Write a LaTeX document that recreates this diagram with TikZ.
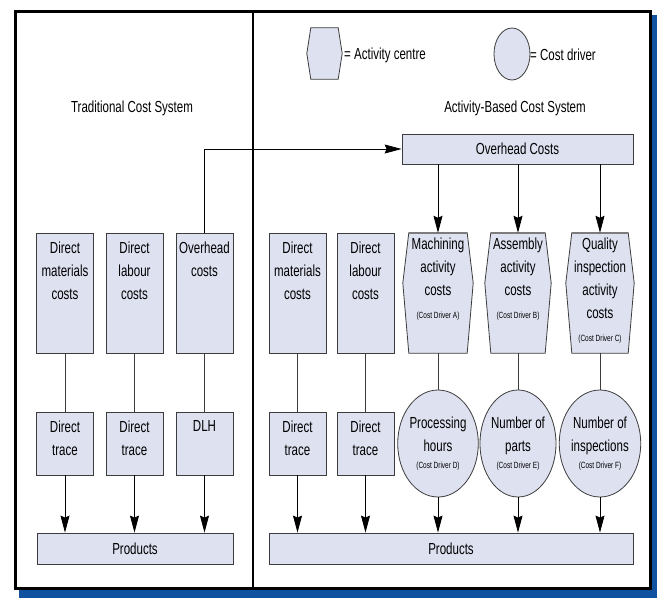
\documentclass[tikz,border=0pt]{standalone}
\usepackage{fontspec}
\setmainfont{Liberation Sans}[FakeStretch=0.72]
\usetikzlibrary{positioning,calc,arrows.meta,shapes.geometric}
\definecolor{boxfill}{RGB}{222,225,240}
\definecolor{boxline}{RGB}{60,60,60}
\definecolor{shadowblue}{RGB}{16,82,160}
\definecolor{hextop}{RGB}{125,125,125}
\newcommand{\drvnote}{\fontsize{9}{10}\selectfont}

\begin{document}
\begin{tikzpicture}[
        x=1pt, y=-1pt,
        costbox/.style={rectangle, draw=boxline, fill=boxfill, line width=0.8pt, minimum width=57pt, minimum height=120pt, inner sep=0pt},
        tracebox/.style={costbox, minimum height=63pt},
        prodbox/.style={costbox, minimum height=31pt, font=\fontsize{16}{18}\selectfont},
        driver/.style={ellipse, draw=boxline, fill=boxfill, line width=0.8pt, minimum height=107pt, inner sep=0pt, align=center, font=\fontsize{16}{23}\selectfont},
        centre/.style={rectangle, minimum height=120pt, inner sep=0pt},
        hexpath/.style={draw=boxline, fill=boxfill, line width=0.8pt},
        lbl/.style={align=center, inner sep=0pt, font=\fontsize{16}{23}\selectfont},
        flow/.style={-{Stealth[length=17pt, width=9pt, inset=2pt]}, line width=0.8pt},
        link/.style={line width=0.8pt, draw=boxline}
    ]
    \useasboundingbox (0,0) rectangle (657,598);

    % Frame with shadow
    \fill[shadowblue] (19,15) rectangle (657,598);
    \draw[line width=3pt, fill=white] (15,11) rectangle (650,588);
    \draw[line width=2.5pt] (253,11) -- (253,588);

    % Titles
    \node[lbl] (tradtitle) at (132,108) {Traditional Cost System};
    \node[lbl] (abctitle) at (515,108) {Activity-Based Cost System};

    % Key
    \node[centre, minimum width=35pt, minimum height=51pt] (keyhex) at (324.5,53.5) {};
    \node[ellipse, draw=boxline, fill=boxfill, line width=0.8pt, minimum width=36pt, minimum height=52pt] (keydrv) at (512,54) {};

    % Traditional system
    \node[costbox] (dm1) at (65,293) {};
    \node[costbox] (dl1) at (134.5,293) {};
    \node[costbox] (oh1) at (204.5,293) {};
    \node[tracebox] (dt1) at (65,443.5) {};
    \node[tracebox] (dt2) at (134.5,443.5) {};
    \node[tracebox] (dlh) at (204.5,443.5) {};
    \node[prodbox, minimum width=196pt] (prod1) at (135,548.5) {Products};

    % Activity-based system
    \node[prodbox, minimum width=231pt, minimum height=30pt] (ohc) at (517.5,149) {Overhead Costs};
    \node[costbox] (dm2) at (297.5,293) {};
    \node[costbox] (dl2) at (365.5,293) {};
    \node[centre, minimum width=70pt] (mach) at (438,293) {};
    \node[centre, minimum width=66pt] (assy) at (518,293) {};
    \node[centre, minimum width=68pt] (qual) at (600,293) {};
    \node[tracebox] (dt3) at (297.5,443.5) {};
    \node[tracebox] (dt4) at (365.5,443.5) {};
    \node[driver, minimum width=62pt] (drvD) at (438,443.5) {Processing\\hours\\[-6pt]{\drvnote (Cost Driver D)}};
    \node[driver, minimum width=63pt] (drvE) at (518,443.5) {Number of\\parts\\[-6pt]{\drvnote (Cost Driver E)}};
    \node[driver, minimum width=66pt] (drvF) at (600,443.5) {Number of\\inspections\\[-6pt]{\drvnote (Cost Driver F)}};
    \node[prodbox, minimum width=364pt] (prod2) at (451,548.5) {Products};

    % Activity centres
    \foreach \h/\d/\dy in {keyhex/4/0, mach/6/-10, assy/6/-10, qual/6/-10}{
        \filldraw[hexpath] ($(\h.north west)+(\d,0)$) -- ($(\h.north east)+(-\d,0)$) -- ($(\h.east)+(0,\dy)$)
            -- ($(\h.south east)+(-\d,0)$) -- ($(\h.south west)+(\d,0)$) -- ($(\h.west)+(0,\dy)$) -- cycle;
    }
    \foreach \h in {mach, assy, qual}{
        \draw[hextop, line width=1.8pt] ($(\h.north west)+(6,0)$) -- ($(\h.north east)+(-6,0)$);
    }

    % Labels
    \node[lbl, anchor=west] (keyhextext) at (344,55) {= Activity centre};
    \node[lbl, anchor=west] (keydrvtext) at (530,55) {= Cost driver};
    \node[lbl, below=9pt of dm1.north] {Direct\\materials\\costs};
    \node[lbl, below=9pt of dl1.north] {Direct\\labour\\costs};
    \node[lbl, below=9pt of oh1.north] {Overhead\\costs};
    \node[lbl, below=9pt of dt1.north] {Direct\\trace};
    \node[lbl, below=9pt of dt2.north] {Direct\\trace};
    \node[lbl, below=9pt of dlh.north] {DLH};
    \node[lbl, below=9pt of dm2.north] {Direct\\materials\\costs};
    \node[lbl, below=9pt of dl2.north] {Direct\\labour\\costs};
    \node[lbl, below=9pt of dt3.north] {Direct\\trace};
    \node[lbl, below=9pt of dt4.north] {Direct\\trace};
    \node[lbl, below=5pt of mach.north] {Machining\\activity\\costs\\{\drvnote (Cost Driver A)}};
    \node[lbl, below=5pt of assy.north] {Assembly\\activity\\costs\\{\drvnote (Cost Driver B)}};
    \node[lbl, below=5pt of qual.north] {Quality\\inspection\\activity\\costs\\{\drvnote (Cost Driver C)}};

    % Traditional flows
    \draw[link] (dm1) -- (dt1);
    \draw[link] (dl1) -- (dt2);
    \draw[link] (oh1) -- (dlh);
    \draw[flow] (dt1.south) -- (dt1.south |- prod1.north);
    \draw[flow] (dt2.south) -- (dt2.south |- prod1.north);
    \draw[flow] (dlh.south) -- (dlh.south |- prod1.north);
    \draw[flow] (oh1.north) |- (ohc.west);

    % Activity-based flows
    \draw[flow] (mach.north |- ohc.south) -- (mach.north);
    \draw[flow] (assy.north |- ohc.south) -- (assy.north);
    \draw[flow] (qual.north |- ohc.south) -- (qual.north);
    \draw[link] (dm2) -- (dt3);
    \draw[link] (dl2) -- (dt4);
    \draw[link] (mach.south) -- (drvD.north);
    \draw[link] (assy.south) -- (drvE.north);
    \draw[link] (qual.south) -- (drvF.north);
    \draw[flow] (dt3.south) -- (dt3.south |- prod2.north);
    \draw[flow] (dt4.south) -- (dt4.south |- prod2.north);
    \draw[flow] (drvD.south) -- (drvD.south |- prod2.north);
    \draw[flow] (drvE.south) -- (drvE.south |- prod2.north);
    \draw[flow] (drvF.south) -- (drvF.south |- prod2.north);

    \end{tikzpicture}
\end{document}
